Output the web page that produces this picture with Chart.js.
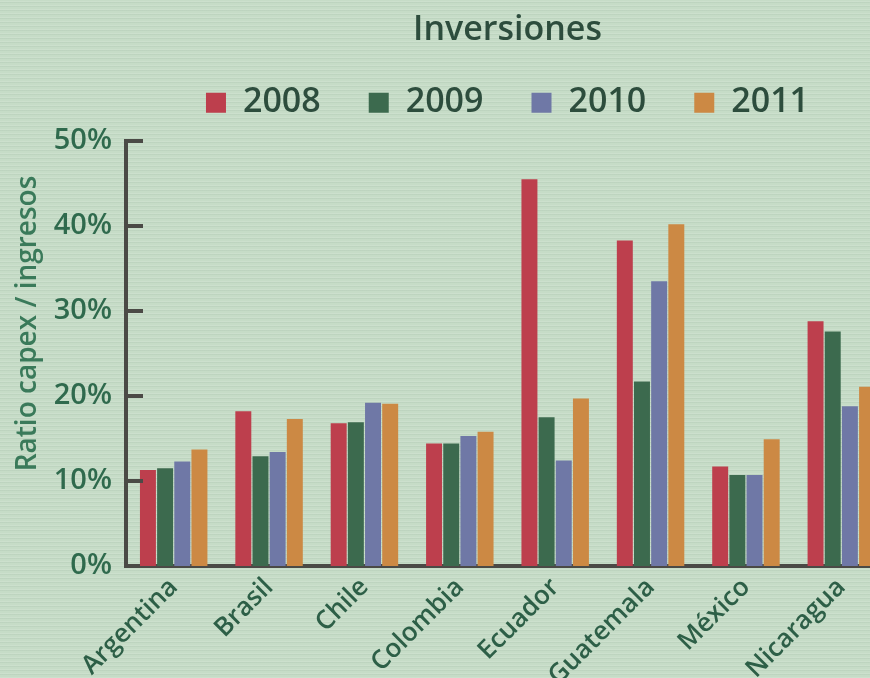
<!DOCTYPE html>
<html>
<head>
<meta charset="utf-8">
<script src="https://cdn.jsdelivr.net/npm/chart.js@4"></script>
<style>
  html, body { margin: 0; padding: 0; overflow: hidden; }
  body {
    width: 870px; height: 678px;
    background-color: #c6dcc7;
    background-image: repeating-linear-gradient(0deg, rgba(255,255,255,0.10) 0px, rgba(255,255,255,0.10) 1px, rgba(0,0,0,0) 1px, rgba(0,0,0,0) 3px, rgba(60,90,70,0.06) 3px, rgba(60,90,70,0.06) 4px);
  }
  canvas { display: block; }
</style>
</head>
<body>
<canvas id="grafico" width="890" height="678"></canvas>
<script>
// datos (ratio capex / ingresos, en %)
const paises = ['Argentina', 'Brasil', 'Chile', 'Colombia', 'Ecuador', 'Guatemala', 'México', 'Nicaragua']
const anios = ['2008', '2009', '2010', '2011']
const v2008 = [11.3, 18.2, 16.8, 14.4, 45.5, 38.3, 11.7, 28.8]
const v2009 = [11.5, 12.9, 16.9, 14.4, 17.5, 21.7, 10.7, 27.6]
const v2010 = [12.3, 13.4, 19.2, 15.3, 12.4, 33.5, 10.7, 18.8]
const v2011 = [13.7, 17.3, 19.1, 15.8, 19.7, 40.2, 14.9, 21.1]
const ticksY = [0, 10, 20, 30, 40, 50]
const tituloY = 'Ratio capex / ingresos'

const colores = ['#bd3f4d', '#3c6a4e', '#6f78a6', '#cc8944']
const colorEje = '#4b4a46'
const fuente = "'Open Sans', sans-serif"

// marcas del eje Y hacia dentro del área + título del eje
const ejeY = {
  id: 'ejeY',
  afterDatasetsDraw(chart) {
    const y = chart.scales.y
    const ctx = chart.ctx
    ctx.save()
    ctx.strokeStyle = colorEje
    ctx.lineWidth = 4
    y.ticks.forEach(t => {
      if (t.value === 0) return
      const py = y.getPixelForValue(t.value)
      ctx.beginPath()
      ctx.moveTo(y.right, py)
      ctx.lineTo(y.right + 17, py)
      ctx.stroke()
    })
    // título vertical, un poco por encima del centro como en el original
    ctx.translate(y.left + 28, y.getPixelForValue(25) - 30)
    ctx.rotate(-Math.PI / 2)
    ctx.fillStyle = '#3a7a5a'
    ctx.font = "600 28px 'Open Sans', sans-serif"
    ctx.textAlign = 'center'
    ctx.textBaseline = 'middle'
    ctx.fillText(tituloY, 0, 0)
    ctx.restore()
  }
}

const ctx = document.getElementById('grafico')

const data = {
  labels: paises,
  datasets: [v2008, v2009, v2010, v2011].map((serie, i) => ({
    label: anios[i],
    data: serie,
    backgroundColor: colores[i],
    borderWidth: 0,
    categoryPercentage: 0.72,
    barPercentage: 0.93
  }))
}

const config = {
  type: 'bar',
  data: data,
  plugins: [ejeY],
  options: {
    responsive: false,
    animation: false,
    layout: { padding: { left: 0, right: 1, top: 0, bottom: 0 } },
    plugins: {
      title: {
        display: true,
        text: 'Inversiones',
        fullSize: false,
        color: '#2d4d3d',
        font: { family: fuente, size: 34, weight: '600' },
        padding: { top: 10, bottom: -13 }
      },
      // separación entre leyenda y gráfico
      subtitle: {
        display: true,
        text: '',
        fullSize: false,
        weight: 500,
        font: { size: 1 },
        padding: { top: 0, bottom: 10 }
      },
      legend: {
        display: true,
        fullSize: false,
        labels: {
          color: '#2d4d3d',
          font: { family: fuente, size: 34, weight: '600' },
          boxWidth: 20,
          boxHeight: 20,
          padding: 48
        }
      },
      tooltip: { enabled: false }
    },
    scales: {
      x: {
        offset: true,
        grid: { display: false },
        border: { display: true, color: colorEje, width: 4 },
        ticks: {
          color: '#2d5f47',
          font: { family: fuente, size: 26, weight: '600' },
          maxRotation: 45,
          minRotation: 45,
          padding: -2
        },
        afterFit(scale) { scale.height = 112 }
      },
      y: {
        min: 0,
        max: 50,
        grid: { display: false },
        border: { display: true, color: colorEje, width: 4 },
        afterBuildTicks(scale) { scale.ticks = ticksY.map(v => ({ value: v })) },
        ticks: {
          color: '#2f6a4d',
          font: { family: fuente, size: 29, weight: '600' },
          padding: 6,
          callback: v => v + '%'
        },
        afterFit(scale) { scale.width = 126 }
      }
    }
  }
}

const miGrafico = new Chart(ctx, config)
</script>
</body>
</html>
